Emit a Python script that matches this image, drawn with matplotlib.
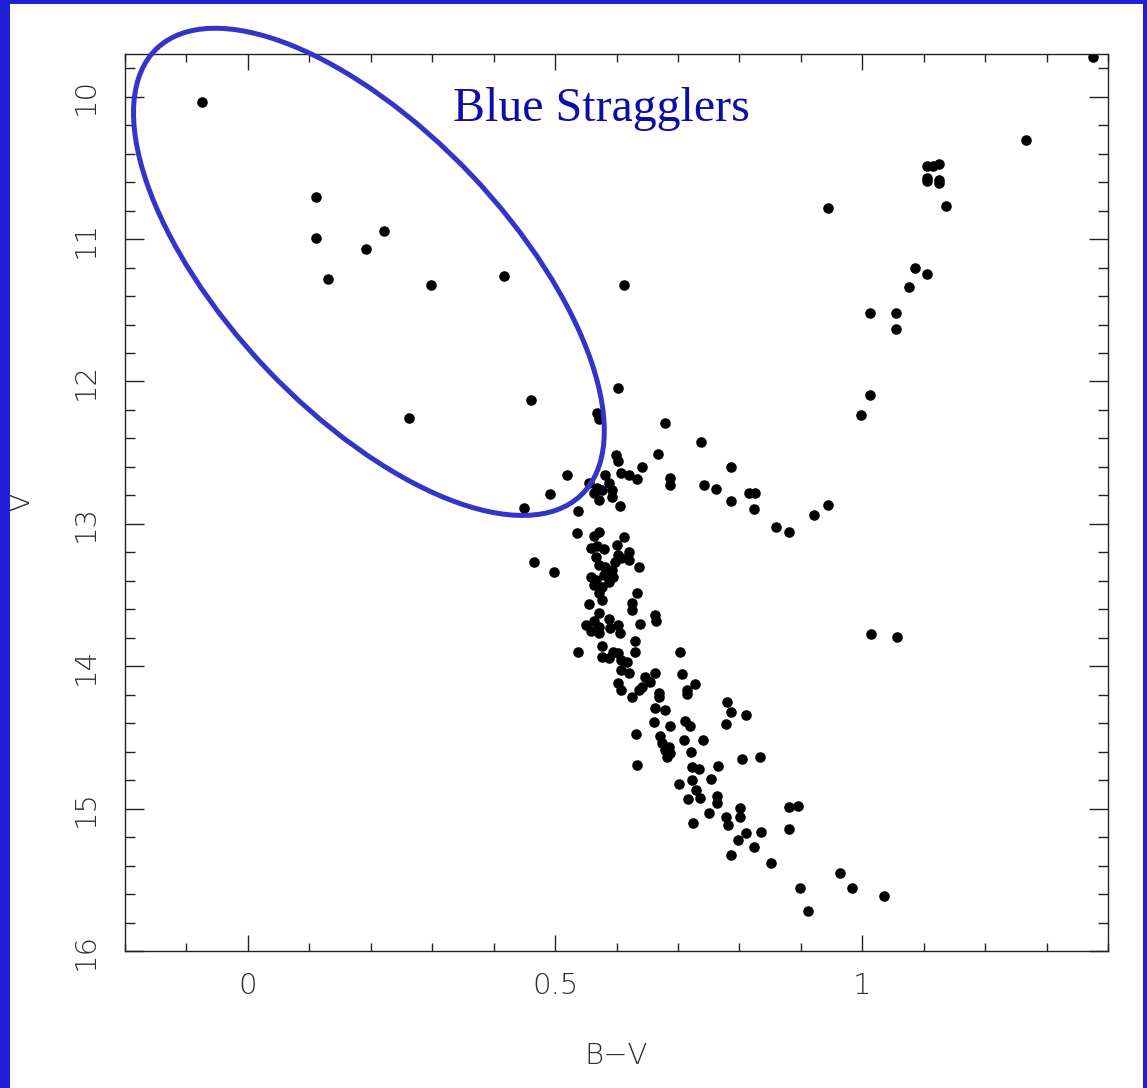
import matplotlib
matplotlib.use('Agg')
import matplotlib.pyplot as plt
from matplotlib.patches import Ellipse, Rectangle
from matplotlib.ticker import MultipleLocator, FuncFormatter
from matplotlib import transforms

# ---- data: colour (B-V) and magnitude (V) ----
straggler_bv = [-0.074, 0.111, 0.111, 0.222, 0.193, 0.131, 0.298, 0.417, 0.613, 0.603,
                0.461, 0.569, 0.572, 0.262, 0.599, 0.602, 0.520, 0.641, 0.491, 0.450, 0.538]
straggler_v = [10.037, 10.704, 10.992, 10.943, 11.069, 11.280, 11.322, 11.259, 11.322, 12.046,
               12.130, 12.221, 12.263, 12.256, 12.516, 12.558, 12.656, 12.600, 12.790, 12.888, 12.909]

turnoff_bv = [0.556, 0.569, 0.581, 0.587, 0.592, 0.571, 0.592, 0.608, 0.621, 0.634, 0.605, 0.563, 0.576]
turnoff_v = [12.713, 12.748, 12.656, 12.713, 12.762, 12.832, 12.811, 12.642, 12.656, 12.685, 12.874, 12.783, 12.762]

giant_bv = [0.679, 0.738, 0.667, 0.787, 0.687, 0.687, 0.742, 0.762, 0.787, 0.816,
            0.826, 0.823, 0.859, 0.881, 0.922, 0.945, 1.012, 0.998, 1.012, 1.055,
            1.055, 0.945, 1.086, 1.105, 1.076, 1.137, 1.105, 1.125, 1.115, 1.105,
            1.105, 1.125, 1.125, 1.266, 1.375, 1.014, 1.056]
giant_v = [12.291, 12.425, 12.509, 12.600, 12.677, 12.727, 12.727, 12.755, 12.839, 12.783,
           12.783, 12.895, 13.022, 13.057, 12.937, 12.867, 12.095, 12.235, 11.519, 11.519,
           11.631, 10.781, 11.203, 11.245, 11.336, 10.767, 10.487, 10.472, 10.487, 10.571,
           10.592, 10.585, 10.606, 10.304, 9.721, 13.773, 13.794]

ms_bv = [0.536, 0.563, 0.571, 0.612, 0.559, 0.569, 0.579, 0.600, 0.621, 0.603,
         0.597, 0.567, 0.608, 0.571, 0.581, 0.621, 0.636, 0.592, 0.595, 0.559,
         0.567, 0.579, 0.587, 0.563, 0.576, 0.572, 0.633, 0.466, 0.499, 0.576,
         0.556, 0.625, 0.626, 0.662, 0.664, 0.638, 0.571, 0.564, 0.551, 0.559,
         0.572, 0.587, 0.590, 0.603, 0.605, 0.572, 0.538, 0.630, 0.630, 0.576,
         0.576, 0.587, 0.595, 0.603, 0.608, 0.617, 0.703, 0.608, 0.621, 0.646,
         0.662, 0.654, 0.641, 0.603, 0.608, 0.625, 0.636, 0.669, 0.669, 0.706,
         0.715, 0.715, 0.728, 0.662, 0.679, 0.661, 0.687, 0.711, 0.720, 0.631,
         0.670, 0.674, 0.685, 0.687, 0.679, 0.682, 0.710, 0.741, 0.721, 0.780,
         0.787, 0.811, 0.778, 0.634, 0.805, 0.834, 0.765, 0.723, 0.734, 0.723,
         0.754, 0.702, 0.729, 0.736, 0.716, 0.764, 0.764, 0.751, 0.724, 0.778,
         0.782, 0.801, 0.801, 0.811, 0.836, 0.798, 0.823, 0.787, 0.852, 0.881,
         0.896, 0.881, 0.899, 0.912, 0.963, 0.983, 1.035]
ms_v = [13.064, 13.085, 13.057, 13.092, 13.169, 13.155, 13.176, 13.148, 13.197, 13.218,
        13.267, 13.232, 13.239, 13.288, 13.302, 13.253, 13.302, 13.324, 13.373, 13.373,
        13.394, 13.359, 13.408, 13.429, 13.443, 13.485, 13.485, 13.267, 13.338, 13.534,
        13.562, 13.555, 13.604, 13.640, 13.682, 13.703, 13.626, 13.682, 13.710, 13.752,
        13.724, 13.668, 13.731, 13.710, 13.766, 13.766, 13.899, 13.822, 13.899, 13.857,
        13.935, 13.942, 13.899, 13.906, 13.956, 13.970, 13.899, 14.026, 14.047, 14.075,
        14.047, 14.110, 14.145, 14.117, 14.166, 14.215, 14.166, 14.187, 14.215, 14.054,
        14.166, 14.194, 14.124, 14.293, 14.307, 14.391, 14.419, 14.384, 14.419, 14.475,
        14.489, 14.538, 14.567, 14.609, 14.588, 14.637, 14.517, 14.517, 14.602, 14.251,
        14.321, 14.342, 14.405, 14.693, 14.651, 14.637, 14.700, 14.707, 14.721, 14.798,
        14.791, 14.826, 14.869, 14.925, 14.932, 14.911, 14.960, 15.030, 15.100, 15.058,
        15.114, 14.995, 15.058, 15.171, 15.163, 15.220, 15.269, 15.325, 15.381, 14.988,
        14.981, 15.142, 15.557, 15.718, 15.451, 15.557, 15.613]

x_label = 'B\u2212V'
y_label = 'V'
annotation = 'Blue Stragglers'

# ---- style ----
frame_blue = '#2020d8'
ellipse_blue = '#3434c8'
text_blue = '#0c0ca8'
ink = '#222222'
label_ink = '#2e2e2e'

W, H, DPI = 1147, 1088, 100
fig = plt.figure(figsize=(W / DPI, H / DPI), dpi=DPI, facecolor='white')
ax = fig.add_axes([125 / W, 1 - 951 / H, (1108 - 125) / W, (951 - 54) / H])

for xs, ys in [(straggler_bv, straggler_v), (turnoff_bv, turnoff_v),
               (giant_bv, giant_v), (ms_bv, ms_v)]:
    ax.plot(xs, ys, 'o', color='black', ms=7.6, mec='none', ls='none')

ax.set_xlim(-0.2, 1.4)
ax.set_ylim(16, 9.7)

ax.xaxis.set_major_locator(MultipleLocator(0.5))
ax.xaxis.set_minor_locator(MultipleLocator(0.1))
ax.yaxis.set_major_locator(MultipleLocator(1))
ax.yaxis.set_minor_locator(MultipleLocator(0.2))
fmt = FuncFormatter(lambda v, p: f'{v:g}' if abs(v) > 1e-9 else '0')
ax.xaxis.set_major_formatter(fmt)
ax.yaxis.set_major_formatter(fmt)

ax.tick_params(which='both', direction='in', top=True, right=True, color=ink, width=1.0)
ax.tick_params(axis='x', which='major', length=11.5, pad=15, labelsize=21, labelcolor=label_ink)
ax.tick_params(axis='x', which='minor', length=6)
ax.tick_params(axis='y', which='major', length=13.5, pad=18, labelsize=21, labelcolor=label_ink)
ax.tick_params(axis='y', which='minor', length=7)
for lab in ax.get_yticklabels():
    lab.set_rotation(90)
    lab.set_va('center')
for lab in ax.get_xticklabels() + ax.get_yticklabels():
    lab.set_fontweight('light')

for sp in ax.spines.values():
    sp.set_color(ink)
    sp.set_linewidth(1.0)

ax.set_xlabel(x_label, fontsize=21, color=label_ink, fontweight='light')
ax.set_ylabel(y_label, fontsize=21, color=label_ink, fontweight='light')
ax.xaxis.set_label_coords(0.5, -0.101)
ax.yaxis.set_label_coords(-0.0916, 0.5)

# ellipse around the blue stragglers (size in pixels, centred in data coords)
ell_tr = transforms.IdentityTransform() + transforms.ScaledTranslation(0.197, 11.23, ax.transData)
ax.add_patch(Ellipse((0, 0), 616, 282, angle=-46.5, transform=ell_tr, fill=False,
                     edgecolor=ellipse_blue, linewidth=3.6, clip_on=False, zorder=5))

ax.text(0.576, 10.17, annotation, family='Liberation Serif', fontsize=34.5,
        color=text_blue, ha='center', va='baseline')

# blue frame of the slide
fig.add_artist(Rectangle((0, 0), 10 / W, 1, transform=fig.transFigure, color=frame_blue, lw=0))
fig.add_artist(Rectangle((0, 1 - 4 / H), 1, 4 / H, transform=fig.transFigure, color=frame_blue, lw=0))
fig.add_artist(Rectangle((1 - 4 / W, 0), 4 / W, 1, transform=fig.transFigure, color=frame_blue, lw=0))

fig.savefig('out.png', dpi=DPI, facecolor='white')
